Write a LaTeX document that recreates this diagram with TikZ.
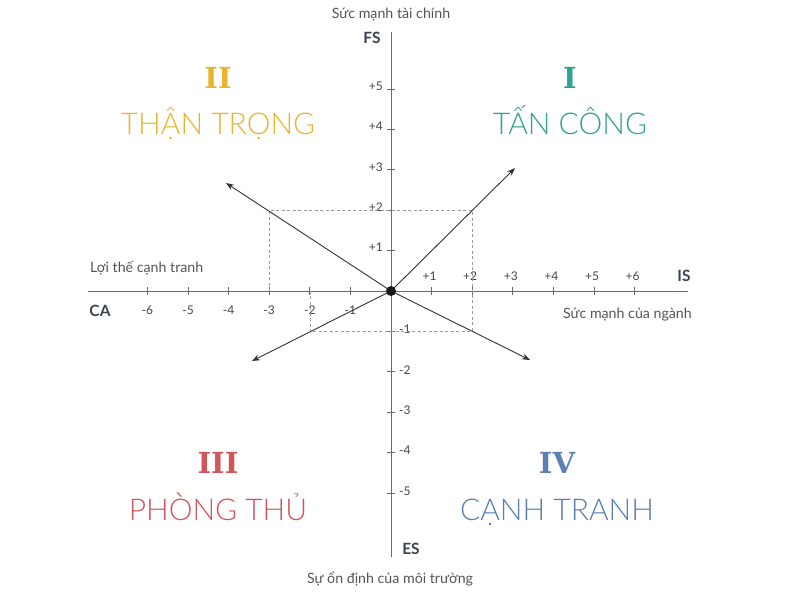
\documentclass[tikz,border=0pt]{standalone}
\usepackage{fontspec}
\setmainfont{Lato}
\newfontfamily\lightf{Lato Light}
\newfontfamily\slabf{DejaVu Serif}
\usetikzlibrary{arrows.meta}
\definecolor{cgold}{HTML}{E8B52E}
\definecolor{cteal}{HTML}{2FA392}
\definecolor{cred}{HTML}{D2555C}
\definecolor{cblue}{HTML}{5B80B4}
\definecolor{ctext}{HTML}{555555}
\definecolor{clab}{HTML}{3B4252}
\definecolor{caxis}{HTML}{6A6A6A}
\definecolor{carrow}{HTML}{333333}
\begin{document}
\begin{tikzpicture}[x=1pt,y=-1pt,
  axisline/.style={draw=caxis,line width=0.8pt},
  guide/.style={draw=black!40,line width=0.6pt,dash pattern=on 3pt off 2.5pt},
  vec/.style={draw=carrow,line width=0.9pt,-{Stealth[length=8pt,width=6pt]}},
  smalltxt/.style={text=ctext,inner sep=0pt,font=\fontsize{14.2}{16}\selectfont},
  ticklab/.style={text=ctext!80!black,inner sep=0pt,font=\fontsize{12}{14}\selectfont},
  axlab/.style={text=clab,inner sep=0pt,font=\fontsize{15.5}{17}\selectfont\bfseries},
  numeral/.style={inner sep=0pt,anchor=base,font=\fontsize{29}{32}\selectfont\slabf\bfseries},
  qtitle/.style={inner sep=0pt,anchor=base,font=\fontsize{30}{34}\selectfont\lightf}]
\useasboundingbox[fill=white] (0,0) rectangle (800,600);

% axes
\coordinate (xL) at (88,291);
\coordinate (xR) at (688,291);
\coordinate (yT) at (391,32);
\coordinate (yB) at (391,557);
\draw[axisline] (xL) -- (xR);
\draw[axisline] (yT) -- (yB);

% x ticks and labels
\foreach \k in {-6,-5,-4,-3,-2,-1} {
  \draw[axisline] ({391+40.6*\k},287) -- ({391+40.6*\k},295);
  \node[ticklab] (xl\k) at ({391+40.6*\k},310) {\k};
}
\foreach \k in {1,...,6} {
  \draw[axisline] ({391+40.6*\k},287) -- ({391+40.6*\k},295);
  \node[ticklab] (xl\k) at ({389+40.6*\k},276) {+\k};
}
% y ticks and labels
\foreach \k in {1,...,5} {
  \draw[axisline] (387,{291-40.4*\k}) -- (395,{291-40.4*\k});
  \node[ticklab,anchor=east] (yl\k) at (383,{288-40.4*\k}) {+\k};
}
\foreach \k in {1,...,5} {
  \draw[axisline] (387,{291+40.4*\k}) -- (395,{291+40.4*\k});
  \node[ticklab,anchor=west] (ylm\k) at (399,{289+40.4*\k}) {-\k};
}

% dashed guides
\coordinate (g1) at (269.2,291);
\coordinate (g2) at (269.2,210.2);
\coordinate (g3) at (472.2,210.2);
\coordinate (g4) at (472.2,331.4);
\coordinate (g5) at (309.8,331.4);
\coordinate (g6) at (309.8,291);
\draw[guide] (g1) -- (g2) -- (g3) -- (g4) -- (g5) -- (g6);

% vectors
\coordinate (O) at (391,291);
\coordinate (a1) at (515,168);
\coordinate (a2) at (226,183);
\coordinate (a3) at (252,361);
\coordinate (a4) at (530,360);
\draw[vec] (O) -- (a1);
\draw[vec] (O) -- (a2);
\draw[vec] (O) -- (a3);
\draw[vec] (O) -- (a4);
\node[circle,fill=black!90,inner sep=0pt,minimum size=10pt] (dot) at (O) {};

% axis names
\node[smalltxt] (tTop) at (391,15) {Sức mạnh tài chính};
\node[axlab] (FS) at (372,38) {FS};
\node[axlab] (ES) at (411,549) {ES};
\node[smalltxt] (tBot) at (390,579) {Sự ổn định của môi trường};
\node[axlab] (CA) at (100,311) {CA};
\node[axlab] (IS) at (684,276) {IS};
\node[smalltxt,anchor=west] (tLeft) at (90,268) {Lợi thế cạnh tranh};
\node[smalltxt,anchor=east] (tRight) at (692,315) {Sức mạnh của ngành};

% quadrants
\node[numeral,text=cgold] (q2n) at (218,88) {II};
\node[qtitle,text=cgold] (q2t) at (218,134) {THẬN TRỌNG};
\node[numeral,text=cteal] (q1n) at (570,88) {I};
\node[qtitle,text=cteal] (q1t) at (570,134) {TẤN CÔNG};
\node[numeral,text=cred] (q3n) at (218,473) {III};
\node[qtitle,text=cred] (q3t) at (218,520) {PHÒNG THỦ};
\node[numeral,text=cblue] (q4n) at (557,473) {IV};
\node[qtitle,text=cblue] (q4t) at (557,520) {CẠNH TRANH};
\end{tikzpicture}
\end{document}
